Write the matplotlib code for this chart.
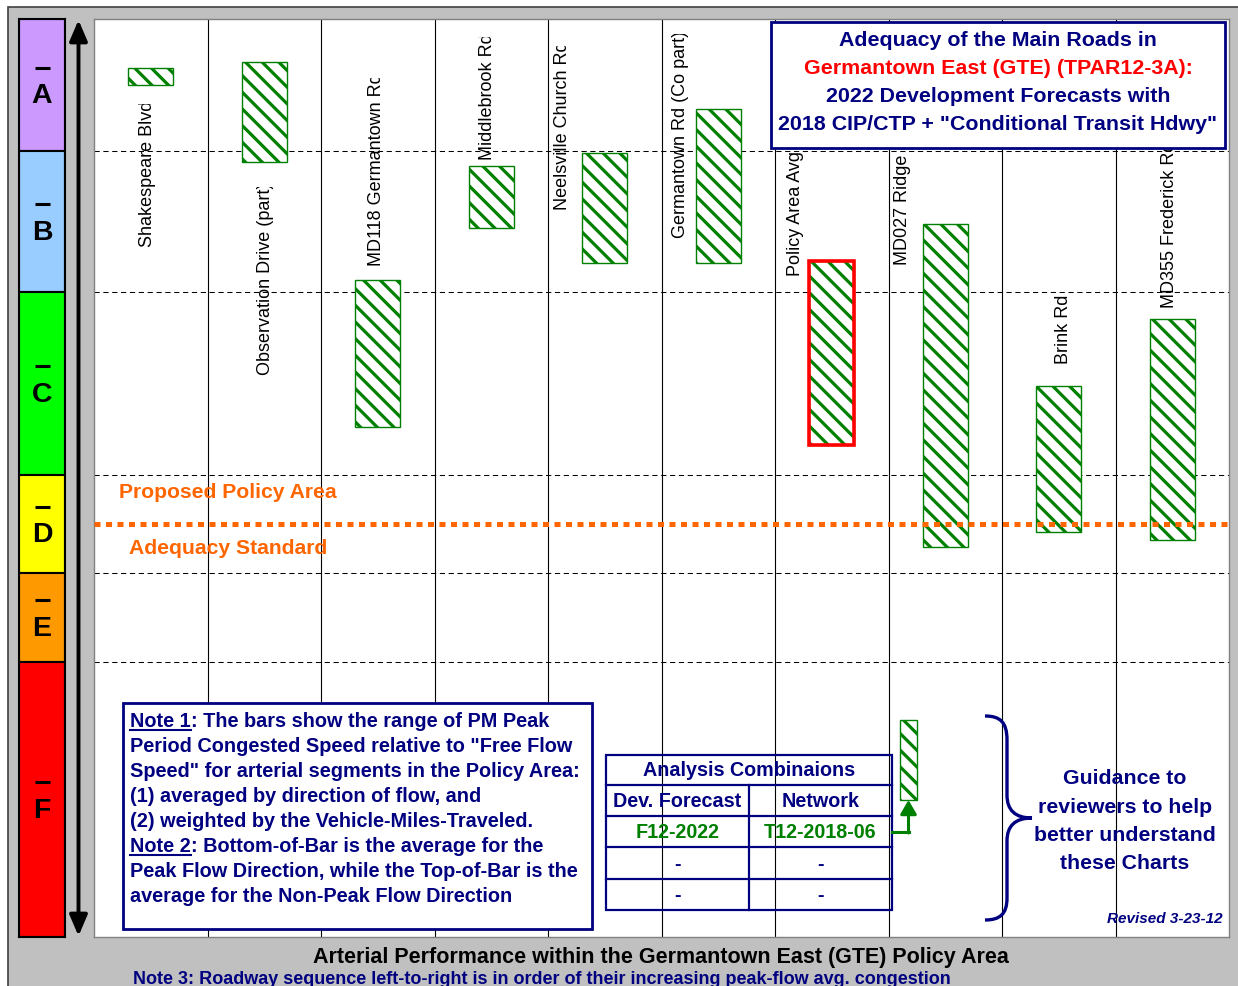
import numpy as np
import matplotlib
matplotlib.use("Agg")
import matplotlib.pyplot as plt
from matplotlib import transforms as mtransforms
from matplotlib.patches import Rectangle, FancyArrowPatch, PathPatch
from matplotlib.path import Path
from matplotlib.lines import Line2D

# ---------------- data ----------------
roads = ["Shakespeare Blvd", "Observation Drive (part)", "MD118 Germantown Rd",
         "Middlebrook Rd", "Neelsville Church Rd", "Germantown Rd (Co part)",
         "Policy Area Avg", "MD027 Ridge Rd", "Brink Rd", "MD355 Frederick Rd"]
# % of free-flow speed: top of bar = non-peak direction, bottom = peak direction
nonpeak_pct = [94.4, 95.1, 68.5, 83.1, 84.7, 89.8, 71.0, 75.7, 58.3, 64.5]
peak_pct = [92.5, 83.6, 54.5, 75.2, 70.7, 70.7, 52.8, 42.7, 44.2, 43.4]
policy_avg_name = "Policy Area Avg"
los_letters = ["A", "B", "C", "D", "E", "F"]
los_upper_pct = [100, 85, 67, 50, 40, 30]
los_lower_pct = [85, 67, 50, 40, 30, 0]
adequacy_std_pct = 45
table_header = "Analysis Combinaions"
table_cols = ["Dev. Forecast", "Network"]
table_rows = [["F12-2022", "T12-2018-06"], ["-", "-"], ["-", "-"]]

# ---------------- layout / style ----------------
W, H = 1238, 986
band_px = [132, 141, 183, 98, 89, 275]          # display height of LOS bands A..F
los_colors = ["#CC99FF", "#99CCFF", "#00FF00", "#FFFF00", "#FF9900", "#FF0000"]
NAVY, GREEN, ORANGE, RED = "#000080", "#008000", "#FF6600", "#FF0000"
HATCH = "\\\\"

plt.rcParams["font.family"] = ["Liberation Sans", "DejaVu Sans"]
plt.rcParams["hatch.linewidth"] = 2.3

pct_edges = np.array(sorted(set(los_lower_pct + los_upper_pct)), dtype=float)
u_edges = np.concatenate([[0], np.cumsum(band_px[::-1])]).astype(float)


def fwd(p):
    return np.interp(p, pct_edges, u_edges)


def inv(u):
    return np.interp(u, u_edges, pct_edges)


fig = plt.figure(figsize=(W / 100, H / 100), dpi=100, facecolor="white")
PX = mtransforms.Affine2D().scale(1 / W, -1 / H).translate(0, 1) + fig.transFigure

# gray chart background with dark outline
fig.add_artist(Rectangle((8, 7), W, H, transform=PX, fc="#C0C0C0", ec="#404040",
                         lw=1.2, zorder=-10))

# ---------------- main plot ----------------
ax = fig.add_axes([94 / W, 1 - 937 / H, (1229 - 94) / W, (937 - 19) / H])
ax.set_yscale("function", functions=(fwd, inv))
ax.set_xlim(0, len(roads))
ax.set_ylim(0, 100)
ax.set_facecolor("white")
ax.set_xticks([])
ax.set_yticks([])
ax.tick_params(which="both", length=0, labelleft=False, labelbottom=False)
for sp in ax.spines.values():
    sp.set_color("#808080")
    sp.set_linewidth(1.0)

ax.vlines(np.arange(1, len(roads)), 0, 100, color="black", lw=0.8, zorder=1)
for v in los_lower_pct[:-1]:
    ax.axhline(v, color="black", lw=0.75, dashes=(5, 3.5), zorder=0.5)

x = np.arange(len(roads)) + 0.5
top = np.array(nonpeak_pct)
bot = np.array(peak_pct)
ax.bar(x, top - bot, bottom=bot, width=0.4, color="white", edgecolor=GREEN,
       hatch=HATCH, lw=1.0, zorder=2)
pi = roads.index(policy_avg_name)
ax.bar(x[pi], top[pi] - bot[pi], bottom=bot[pi], width=0.4, facecolor="none",
       edgecolor=RED, lw=2.6, zorder=2.5)

ax.axhline(adequacy_std_pct, color=ORANGE, lw=3.6, linestyle=(0, (1.2, 1.1)),
           dash_capstyle="butt", zorder=3)

# road labels (rotated, some clipped like the original text boxes)
label_dx = [-0.03, 0.01, -0.01, -0.03, -0.37, -0.33, -0.32, -0.38, 0.04, -0.02]
label_bottom_px = [247, 375, 266, 160, 210, 238, 276, 265, 364, 308]
label_clip_px = [104, 187, 78, 37, 46, 34, None, None, None, None]
lab_tr = mtransforms.blended_transform_factory(ax.transData, PX)
for i, name in enumerate(roads):
    t = ax.text(x[i] + label_dx[i], label_bottom_px[i], name, transform=lab_tr,
                rotation=90, ha="center", va="bottom", fontsize=13, color="black",
                zorder=4)
    if label_clip_px[i] is not None:
        t.set_clip_on(True)
        t.set_clip_box(mtransforms.TransformedBbox(
            mtransforms.Bbox.from_extents(0, 0, 1, 1 - label_clip_px[i] / H),
            fig.transFigure))

# ---------------- LOS colour band ----------------
bax = fig.add_axes([19 / W, 1 - 937 / H, 46 / W, 918 / H])
bax.set_yscale("function", functions=(fwd, inv))
bax.set_xlim(0, 1)
bax.set_ylim(0, 100)
bax.set_xticks([])
bax.set_yticks([])
bax.tick_params(which="both", length=0, labelleft=False, labelbottom=False)
for sp in bax.spines.values():
    sp.set_color("black")
    sp.set_linewidth(1.5)
letter_fs = 20.5
cap = letter_fs * 100 / 72 * 0.716
for letter, lo, hi, col in zip(los_letters, los_lower_pct, los_upper_pct, los_colors):
    bax.axhspan(lo, hi, facecolor=col, edgecolor="black", lw=1.5)
    mid = inv((fwd(lo) + fwd(hi)) / 2)
    disp_y = bax.transData.transform((0, mid))[1]
    mid_px = H - disp_y * H / fig.bbox.height
    base = mid_px + 8 + cap / 2
    fig.text(42, base, letter, transform=PX, ha="center", va="baseline",
             fontsize=letter_fs, fontweight="bold", color="black", zorder=6)
    ybar = base - cap - 15
    fig.add_artist(Line2D([34.5, 50], [ybar, ybar], transform=PX, color="black",
                          lw=2.2, solid_capstyle="butt", zorder=6))

# vertical double arrow
fig.add_artist(FancyArrowPatch((78.5, 936), (78.5, 20), transform=PX,
                               arrowstyle="<|-|>,head_length=0.7,head_width=0.3",
                               mutation_scale=18, lw=2.8, color="black",
                               shrinkA=0, shrinkB=0, zorder=5))

# ---------------- orange adequacy text ----------------
fig.text(228, 493, "Proposed Policy Area", transform=PX, ha="center", va="center",
         fontsize=15.2, fontweight="bold", color=ORANGE, zorder=6)
fig.text(228, 548, "Adequacy Standard", transform=PX, ha="center", va="center",
         fontsize=15.2, fontweight="bold", color=ORANGE, zorder=6)

# ---------------- title box ----------------
fig.add_artist(Rectangle((771, 22), 454, 126, transform=PX, fc="white", ec=NAVY,
                         lw=2.0, zorder=7))
title_lines = [("Adequacy of the Main Roads in", NAVY),
               ("Germantown East (GTE) (TPAR12-3A):", RED),
               ("2022 Development Forecasts with", NAVY),
               ("2018 CIP/CTP + \"Conditional Transit Hdwy\"", NAVY)]
for k, (txt, col) in enumerate(title_lines):
    fig.text(998, 41 + 28 * k, txt, transform=PX, ha="center", va="center",
             fontsize=15.4, fontweight="bold", color=col, zorder=8)

# ---------------- note box ----------------
fig.add_artist(Rectangle((123, 703), 469, 226, transform=PX, fc="white", ec=NAVY,
                         lw=2.0, zorder=7))
note_lines = [("Note 1", ": The bars show the range of PM Peak"),
              (None, "Period Congested Speed relative to \"Free Flow"),
              (None, "Speed\" for arterial segments in the Policy Area:"),
              (None, "(1) averaged by direction of flow, and"),
              (None, "(2) weighted by the Vehicle-Miles-Traveled."),
              ("Note 2", ": Bottom-of-Bar is the average for the"),
              (None, "Peak Flow Direction, while the Top-of-Bar is the"),
              (None, "average for the Non-Peak Flow Direction")]
renderer = fig.canvas.get_renderer()
note_fs = 14.35
for k, (ul, rest) in enumerate(note_lines):
    base = 727 + 25 * k
    xs = 130
    if ul is not None:
        t = fig.text(xs, base, ul, transform=PX, ha="left", va="baseline",
                     fontsize=note_fs, fontweight="bold", color=NAVY, zorder=8)
        bb = t.get_window_extent(renderer)
        x1 = bb.x1 * W / fig.bbox.width
        fig.add_artist(Line2D([xs, x1], [base + 3, base + 3], transform=PX,
                              color=NAVY, lw=1.5, zorder=8))
        xs = x1
    fig.text(xs, base, rest, transform=PX, ha="left", va="baseline",
             fontsize=note_fs, fontweight="bold", color=NAVY, zorder=8)

# ---------------- analysis table ----------------
tl, tr, tm = 606, 892, 749
row_y = [755, 785, 816, 847, 879, 910]
fig.add_artist(Rectangle((tl, row_y[0]), tr - tl, row_y[-1] - row_y[0], transform=PX,
                         fc="none", ec=NAVY, lw=1.6, zorder=7))
for yy in row_y[1:-1]:
    fig.add_artist(Line2D([tl, tr], [yy, yy], transform=PX, color=NAVY, lw=1.6, zorder=7))
fig.add_artist(Line2D([tm, tm], [row_y[1], row_y[-1]], transform=PX, color=NAVY,
                      lw=1.6, zorder=7))
tfs = 14.2
fig.text((tl + tr) / 2, (row_y[0] + row_y[1]) / 2 + 1, table_header, transform=PX,
         ha="center", va="center", fontsize=tfs, fontweight="bold", color=NAVY, zorder=8)
cx = [(tl + tm) / 2, (tm + tr) / 2]
for j, c in enumerate(table_cols):
    fig.text(cx[j], (row_y[1] + row_y[2]) / 2 + 1, c, transform=PX, ha="center",
             va="center", fontsize=tfs, fontweight="bold", color=NAVY, zorder=8)
for r, row in enumerate(table_rows):
    col = GREEN if r == 0 else NAVY
    for j, c in enumerate(row):
        fig.text(cx[j], (row_y[2 + r] + row_y[3 + r]) / 2 + 1, c, transform=PX,
                 ha="center", va="center", fontsize=tfs, fontweight="bold",
                 color=col, zorder=8)

# small sample bar + green arrow
fig.add_artist(Rectangle((900, 720), 17, 80, transform=PX, fc="white", ec=GREEN,
                         hatch=HATCH, lw=1.0, zorder=7))
fig.add_artist(Line2D([tr, 908.5], [832, 832], transform=PX, color=GREEN, lw=2.2,
                      zorder=7))
fig.add_artist(FancyArrowPatch((908.5, 833), (908.5, 800), transform=PX,
                               arrowstyle="-|>,head_length=0.6,head_width=0.35",
                               mutation_scale=14, lw=2.2, color=GREEN,
                               shrinkA=0, shrinkB=0, zorder=7))

# ---------------- brace and guidance ----------------
verts = [(985, 716), (1000, 716), (1007, 722), (1007, 740),
         (1007, 795),
         (1007, 810), (1015, 818), (1032, 818),
         (1015, 818), (1007, 826), (1007, 841),
         (1007, 898),
         (1007, 914), (1000, 920), (985, 920)]
codes = [Path.MOVETO, Path.CURVE4, Path.CURVE4, Path.CURVE4,
         Path.LINETO,
         Path.CURVE4, Path.CURVE4, Path.CURVE4,
         Path.CURVE4, Path.CURVE4, Path.CURVE4,
         Path.LINETO,
         Path.CURVE4, Path.CURVE4, Path.CURVE4]
fig.add_artist(PathPatch(Path(verts, codes), transform=PX, fill=False, ec=NAVY,
                         lw=2.4, zorder=7))
for k, txt in enumerate(["Guidance to", "reviewers to help", "better understand",
                         "these Charts"]):
    fig.text(1125, 779 + 28.2 * k, txt, transform=PX, ha="center", va="center",
             fontsize=15.3, fontweight="bold", color=NAVY, zorder=8)
fig.text(1223, 919, "Revised 3-23-12", transform=PX, ha="right", va="center",
         fontsize=11, fontweight="bold", fontstyle="italic", color=NAVY, zorder=8)

# ---------------- bottom captions ----------------
fig.text(661, 957, "Arterial Performance within the Germantown East (GTE) Policy Area",
         transform=PX, ha="center", va="center", fontsize=15.5, fontweight="bold",
         color="black", zorder=8)
fig.text(133, 979, "Note 3: Roadway sequence left-to-right is in order of their "
                   "increasing peak-flow avg. congestion",
         transform=PX, ha="left", va="center", fontsize=13, fontweight="bold",
         color=NAVY, zorder=8)

fig.savefig("out.png", dpi=100, facecolor=fig.get_facecolor())
